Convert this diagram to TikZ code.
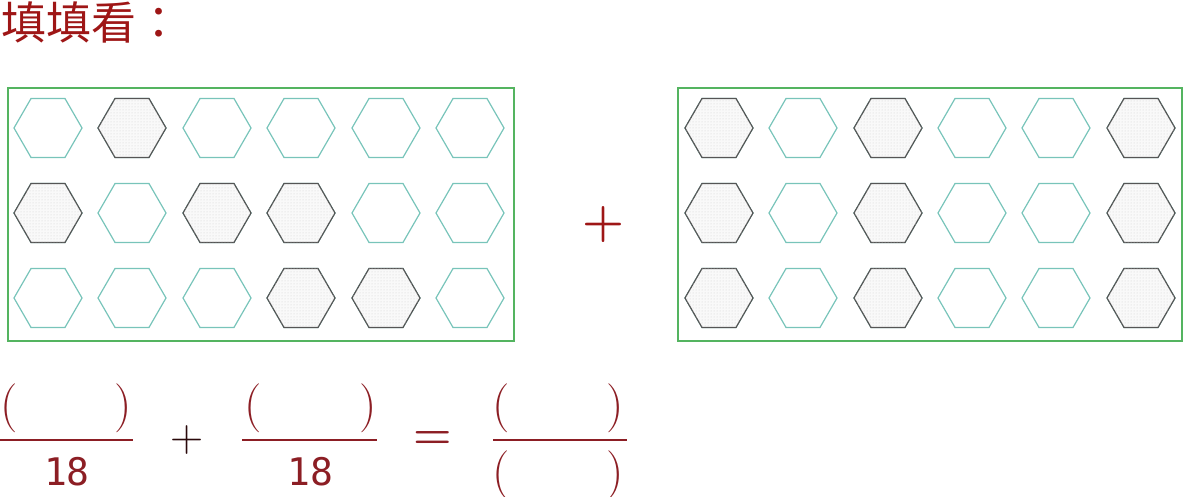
\documentclass[tikz,border=0pt]{standalone}
\usepackage{fontspec}
\usetikzlibrary{shapes.geometric,patterns}
\newfontfamily\cjk{Noto Sans CJK TC}
\newfontfamily\monodig{DejaVu Sans Mono}
\definecolor{titlered}{RGB}{158,22,22}
\definecolor{fracred}{RGB}{140,30,36}
\definecolor{boxgreen}{RGB}{84,180,96}
\definecolor{hexteal}{RGB}{120,196,186}
\definecolor{hexdark}{RGB}{85,85,85}
\tikzset{
  x=1pt, y=-1pt,
  hexbase/.style={regular polygon, regular polygon sides=6, minimum size=68pt, inner sep=0pt, outer sep=0pt, line width=1.2pt},
  hexempty/.style={hexbase, draw=hexteal},
  hexfull/.style={hexbase, draw=hexdark, fill=gray!5, postaction={pattern=dots, pattern color=gray!35}},
  frame/.style={draw=boxgreen, line width=1.8pt},
  bar/.style={draw=fracred, line width=2.6pt},
  paren/.style={text=fracred, inner sep=0pt, anchor=base, font=\fontsize{49}{49}\selectfont},
  digits/.style={text=fracred, inner sep=0pt, anchor=base, font=\monodig\fontsize{38}{38}\selectfont},
  opsign/.style={inner sep=0pt, anchor=center},
}
\begin{document}
\begin{tikzpicture}
\useasboundingbox (0,0) rectangle (1184,497);
% title
\node[anchor=base west, inner sep=0pt, text=titlered, font=\cjk\fontsize{45}{45}\selectfont] (title) at (1,40) {填填看：};
% frames
\node[frame, minimum width=506pt, minimum height=253pt, inner sep=0pt, anchor=north west] (boxL) at (7,87) {};
\node[frame, minimum width=504pt, minimum height=253pt, inner sep=0pt, anchor=north west] (boxR) at (677,87) {};
% left hexagons
\foreach \r/\y in {1/128,2/213,3/298}{
  \foreach \c/\x in {1/48,2/132,3/217,4/301,5/386,6/470}{
    \node[hexempty] (L-\r-\c) at (\x,\y) {};
  }
}
\foreach \r/\c/\x/\y in {1/2/132/128, 2/1/48/213, 2/3/217/213, 2/4/301/213, 3/4/301/298, 3/5/386/298}{
  \node[hexfull] (LS-\r-\c) at (\x,\y) {};
}
% right hexagons
\foreach \r/\y in {1/128,2/213,3/298}{
  \foreach \c/\x in {1/719,2/803,3/888,4/972,5/1056,6/1141}{
    \node[hexempty] (R-\r-\c) at (\x,\y) {};
  }
  \foreach \c/\x in {1/719,3/888,6/1141}{
    \node[hexfull] (RS-\r-\c) at (\x,\y) {};
  }
}
% plus between boxes
\node[opsign, text=titlered, font=\fontsize{48}{48}\selectfont] (plusbig) at (603,225) {\textbf{+}};
% fraction 1
\node[paren] (f1l) at (9,420) {(};
\node[paren] (f1r) at (123,420) {)};
\draw[bar] (0,440) -- (133,440);
\node[digits] (f1d) at (67,485) {18};
% plus
\node[opsign, text=black!70!fracred, font=\fontsize{46}{46}\selectfont] (plussmall) at (187,440) {+};
% fraction 2
\node[paren] (f2l) at (253,420) {(};
\node[paren] (f2r) at (368,420) {)};
\draw[bar] (242,440) -- (377,440);
\node[digits] (f2d) at (310,485) {18};
% equals
\node[opsign, text=fracred, font=\fontsize{44}{44}\selectfont] (eq) at (433,440) {\textbf{=}};
% fraction 3
\node[paren] (f3l) at (501,420) {(};
\node[paren] (f3r) at (615,420) {)};
\draw[bar] (493,440) -- (627,440);
\node[paren] (f3bl) at (501,487) {(};
\node[paren] (f3br) at (615,487) {)};
\end{tikzpicture}
\end{document}
